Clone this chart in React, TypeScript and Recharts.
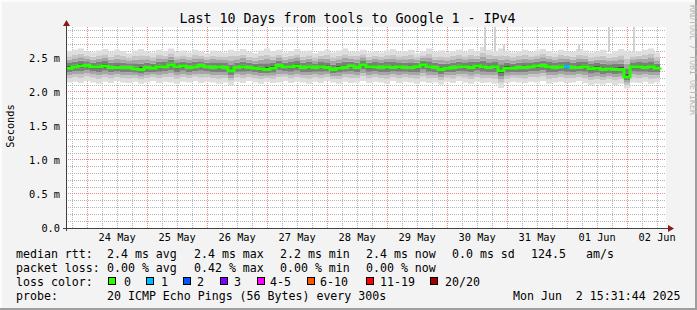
import React from "react";
import { ComposedChart, Area, Line, XAxis, YAxis, CartesianGrid, ReferenceArea } from "recharts";

// one sample every 2.4 h over the 10 day window (240 h), values in ms
const MEDIAN = [
  2.35, 2.37, 2.38, 2.39, 2.37, 2.37, 2.38, 2.36, 2.36, 2.36, 2.36, 2.34, 2.33, 2.36, 2.35, 2.37, 2.37, 2.4, 2.37, 2.38,
  2.36, 2.37, 2.39, 2.37, 2.36, 2.37, 2.36, 2.31, 2.36, 2.37, 2.36, 2.35, 2.34, 2.33, 2.35, 2.39, 2.37, 2.37, 2.38, 2.36,
  2.37, 2.36, 2.37, 2.36, 2.33, 2.35, 2.36, 2.38, 2.36, 2.4, 2.37, 2.37, 2.36, 2.37, 2.36, 2.37, 2.36, 2.36, 2.37, 2.4,
  2.37, 2.36, 2.33, 2.35, 2.36, 2.37, 2.37, 2.36, 2.38, 2.37, 2.36, 2.37, 2.31, 2.35, 2.35, 2.36, 2.36, 2.37, 2.38, 2.39,
  2.37, 2.36, 2.37, 2.37, 2.36, 2.36, 2.37, 2.34, 2.35, 2.33, 2.34, 2.33, 2.33, 2.22, 2.37, 2.37, 2.36, 2.37, 2.35, 2.36,
];
const LOW = [
  2.14, 2.15, 2.13, 2.16, 2.14, 2.12, 2.15, 2.13, 2.16, 2.14, 2.13, 2.15, 2.12, 2.14, 2.16, 2.13, 2.15, 2.14, 2.12, 2.15,
  2.14, 2.16, 2.13, 2.15, 2.14, 2.12, 2.14, 2.1, 2.15, 2.13, 2.16, 2.14, 2.12, 2.15, 2.13, 2.14, 2.16, 2.13, 2.15, 2.14,
  2.12, 2.15, 2.13, 2.16, 2.14, 2.12, 2.15, 2.13, 2.14, 2.16, 2.13, 2.15, 2.14, 2.12, 2.16, 2.13, 2.15, 2.14, 2.12, 2.15,
  2.13, 2.14, 2.11, 2.15, 2.13, 2.16, 2.14, 2.12, 2.15, 2.13, 2.14, 2.12, 2.06, 2.13, 2.15, 2.14, 2.13, 2.15, 2.14, 2.16,
  2.12, 2.14, 2.15, 2.13, 2.14, 2.16, 2.13, 2.1, 2.12, 2.11, 2.13, 2.1, 2.12, 2.05, 2.14, 2.13, 2.15, 2.12, 2.14, 2.13,
];
const HIGH = [
  2.6, 2.62, 2.64, 2.6, 2.58, 2.61, 2.63, 2.59, 2.62, 2.6, 2.57, 2.61, 2.63, 2.6, 2.58, 2.62, 2.6, 2.64, 2.59, 2.61,
  2.58, 2.62, 2.6, 2.57, 2.61, 2.59, 2.58, 2.62, 2.6, 2.63, 2.59, 2.57, 2.61, 2.64, 2.6, 2.62, 2.58, 2.6, 2.63, 2.59,
  2.61, 2.57, 2.6, 2.62, 2.58, 2.61, 2.64, 2.59, 2.6, 2.62, 2.58, 2.6, 2.58, 2.61, 2.63, 2.59, 2.6, 2.62, 2.57, 2.6,
  2.64, 2.59, 2.61, 2.58, 2.6, 2.62, 2.59, 2.63, 2.6, 2.66, 2.62, 2.6, 2.64, 2.61, 2.58, 2.6, 2.62, 2.59, 2.61, 2.63,
  2.6, 2.58, 2.62, 2.6, 2.59, 2.63, 2.61, 2.58, 2.6, 2.62, 2.57, 2.6, 2.63, 2.61, 2.59, 2.6, 2.62, 2.64, 2.58, 2.6,
];
const LOSS_AT = [83]; // one sample with 1/20 lost
const SPIKE_AT = [167.2, 171.2, 174.8, 204.8, 216.8, 226.8]; // hours
const SPIKE_TOP = [2.96, 2.96, 2.69, 2.7, 2.96, 2.96];

const STEP_H = 2.4;
const FIRST_MIDNIGHT = 8.47; // hours after window start (Fri 23 May 15:31)
const DAY_LABELS = ["24 May", "25 May", "26 May", "27 May", "28 May", "29 May", "30 May", "31 May", "01 Jun", "02 Jun"];
const Y_TICKS = [0, 0.5, 1, 1.5, 2, 2.5];
const Y_MAX = 2.955;

const LOSS_NAMES = ["0", "1", "2", "3", "4-5", "6-10", "11-19", "20/20"];
const LOSS_COLORS = ["#26ff00", "#00b8ff", "#0059ff", "#7e00ff", "#ff00ff", "#ff5500", "#ff0000", "#a10000"];
const LOSS_X = [108, 146, 183, 220, 257, 307, 366, 430];
const LOSS_LABEL_X = [124, 161, 197, 234, 270, 320, 380, 445];

const SMOKE_FRAC = [1, 0.7, 0.5, 0.3, 0.12];
const SMOKE_COLORS = ["#dedede", "#c6c6c6", "#a6a6a6", "#7e7e7e", "#464646", "#7e7e7e", "#a6a6a6", "#c6c6c6", "#dedede"];

const FONT = "'DejaVu Sans Mono', monospace";

const data = MEDIAN.map((med, i) => {
  const lo = LOW[i];
  const hi = HIGH[i];
  const levels = [
    ...SMOKE_FRAC.map((f) => med - f * (med - lo)),
    ...SMOKE_FRAC.slice().reverse().map((f) => med + f * (hi - med)),
  ];
  const row: Record<string, number | null> = { t: i * STEP_H, base: lo, med };
  for (let k = 1; k < levels.length; k++) row["s" + k] = levels[k] - levels[k - 1];
  const lossIdx = LOSS_AT.find((j) => j === i || j === i - 1);
  row.loss = lossIdx !== undefined ? MEDIAN[lossIdx] : null;
  return row;
});

const noonTicks = DAY_LABELS.map((_, k) => FIRST_MIDNIGHT + 12 + 24 * k);
const midnights = DAY_LABELS.map((_, k) => FIRST_MIDNIGHT + 24 * k);
const minorX: number[] = [];
for (let h = FIRST_MIDNIGHT - 6; h <= 240; h += 6) {
  if (!midnights.some((m) => Math.abs(m - h) < 0.01)) minorX.push(h);
}
const minorY: number[] = [];
for (let v = 1; v * 0.1 < Y_MAX; v++) if (v % 5 !== 0) minorY.push(v / 10);

const MINOR = "#b4b4b4";
const MAJOR = "#ea8a8a";

// map grid values through the axis scales, snapped to pixel centres
const snap = (c: number) => Math.floor(c) + 0.5;
const hGen = (vals: number[]) => (p: any) => {
  const s = p?.yAxis?.scale;
  if (typeof s === "function") return vals.map((v) => snap(s(v)));
  return vals.map((v) => snap(p.offset.top + p.offset.height * (1 - v / Y_MAX)));
};
const vGen = (vals: number[]) => (p: any) => {
  const s = p?.xAxis?.scale;
  if (typeof s === "function") return vals.map((v) => snap(s(v)));
  return vals.map((v) => snap(p.offset.left + (p.offset.width * v) / 240));
};

const legendLine = (y: number, parts: [number, string][]) =>
  parts.map(([x, s], i) => (
    <text key={y + "-" + i} x={x} y={y} fontSize={11.6} fontFamily={FONT} fill="#000" style={{ whiteSpace: "pre" }}>
      {s}
    </text>
  ));

export default function App() {
  return (
    <div
      style={{
        position: "absolute",
        left: 0,
        top: 0,
        width: 697,
        height: 310,
        background: "#f3f3f3",
        boxShadow: "inset -2px -2px 0 #9e9e9e, inset 2px 2px 0 #fcfcfc",
      }}
    >
      <div style={{ position: "absolute", left: 66, top: 27, width: 600, height: 201, background: "#fff" }} />
      <div style={{ position: "absolute", left: 0, top: 0 }}>
        <ComposedChart width={697} height={310} data={data} margin={{ top: 27, right: 31, bottom: 62, left: 0 }}>
          <CartesianGrid
            horizontalCoordinatesGenerator={hGen(minorY)}
            verticalCoordinatesGenerator={vGen(minorX)}
            stroke={MINOR}
            strokeDasharray="1 1"
          />
          <CartesianGrid
            horizontalCoordinatesGenerator={hGen(Y_TICKS.slice(1))}
            verticalCoordinatesGenerator={vGen(midnights)}
            stroke={MAJOR}
            strokeDasharray="1 1"
          />
          <XAxis
            dataKey="t"
            type="number"
            domain={[0, 240]}
            ticks={noonTicks}
            tickFormatter={(v: number) => DAY_LABELS[noonTicks.findIndex((n) => Math.abs(n - v) < 0.01)]}
            axisLine={false}
            tickLine={false}
            tickSize={0}
            tickMargin={6}
            height={20}
            tick={{ fontSize: 10.3, fontFamily: FONT, fill: "#000" }}
            interval={0}
          />
          <YAxis
            type="number"
            domain={[0, Y_MAX]}
            allowDataOverflow
            ticks={Y_TICKS}
            tickFormatter={(v: number) => (v === 0 ? "0.0" : v.toFixed(1) + " m")}
            axisLine={false}
            tickLine={false}
            tickSize={0}
            tickMargin={6}
            width={66}
            tick={{ fontSize: 10.3, fontFamily: FONT, fill: "#000" }}
            interval={0}
          />
          <Area dataKey="base" stackId="smoke" type="stepAfter" stroke="none" fill="none" isAnimationActive={false} />
          {SMOKE_COLORS.map((c, k) => (
            <Area
              key={"s" + k}
              dataKey={"s" + (k + 1)}
              stackId="smoke"
              type="stepAfter"
              stroke="none"
              fill={c}
              fillOpacity={1}
              isAnimationActive={false}
            />
          ))}
          {SPIKE_AT.map((h, k) => (
            <ReferenceArea
              key={"sp" + k}
              x1={h}
              x2={h + 0.8}
              y1={2.6}
              y2={Math.min(SPIKE_TOP[k], Y_MAX)}
              fill="#d0d0d0"
              fillOpacity={1}
              stroke="none"
              ifOverflow="hidden"
            />
          ))}
          <Line
            dataKey="med"
            type="stepAfter"
            stroke="#26ff00"
            strokeWidth={3}
            dot={false}
            isAnimationActive={false}
          />
          <Line
            dataKey="loss"
            type="stepAfter"
            stroke="#00b8ff"
            strokeWidth={3}
            dot={false}
            connectNulls={false}
            isAnimationActive={false}
          />
        </ComposedChart>
      </div>
      <svg width={697} height={310} style={{ position: "absolute", left: 0, top: 0, pointerEvents: "none" }}>
        <line x1={66.5} y1={24} x2={66.5} y2={231} stroke="#404040" strokeWidth={1} />
        <line x1={63} y1={228.5} x2={669} y2={228.5} stroke="#404040" strokeWidth={1} />
        <polygon points="66.5,20 63,26 70,26" fill="#8b1a1a" />
        <polygon points="674,228.5 668,225 668,232" fill="#8b1a1a" />
        <text x={347.5} y={22.5} textAnchor="middle" fontSize={13.3} fontFamily={FONT} fill="#000">
          Last 10 Days from tools to Google 1 - IPv4
        </text>
        <text transform="translate(13.5,126) rotate(-90)" textAnchor="middle" fontSize={10.3} fontFamily={FONT} fill="#000">
          Seconds
        </text>
        <text transform="translate(689.5,5) rotate(90)" fontSize={8.3} fontFamily={FONT} fill="#b8b8b8">
          RRDTOOL / TOBI OETIKER
        </text>
        {legendLine(257.5, [
          [16, "median rtt:"],
          [107, "2.4 ms avg"],
          [194, "2.4 ms max"],
          [280, "2.2 ms min"],
          [366, "2.4 ms now"],
          [452, "0.0 ms sd"],
          [531, "124.5"],
          [586, "am/s"],
        ])}
        {legendLine(271.5, [
          [16, "packet loss:"],
          [107, "0.00 % avg"],
          [194, "0.42 % max"],
          [280, "0.00 % min"],
          [366, "0.00 % now"],
        ])}
        {legendLine(285.5, [[16, "loss color:"]])}
        {LOSS_NAMES.map((n, k) => (
          <g key={"lc" + k}>
            <rect x={LOSS_X[k] + 0.5} y={277.5} width={7} height={7} fill={LOSS_COLORS[k]} stroke="#000" strokeWidth={1} />
            <text x={LOSS_LABEL_X[k]} y={285.5} fontSize={11.6} fontFamily={FONT} fill="#000">
              {n}
            </text>
          </g>
        ))}
        {legendLine(299.5, [
          [16, "probe:"],
          [107, "20 ICMP Echo Pings (56 Bytes) every 300s"],
          [513, "Mon Jun  2 15:31:44 2025"],
        ])}
      </svg>
    </div>
  );
}
